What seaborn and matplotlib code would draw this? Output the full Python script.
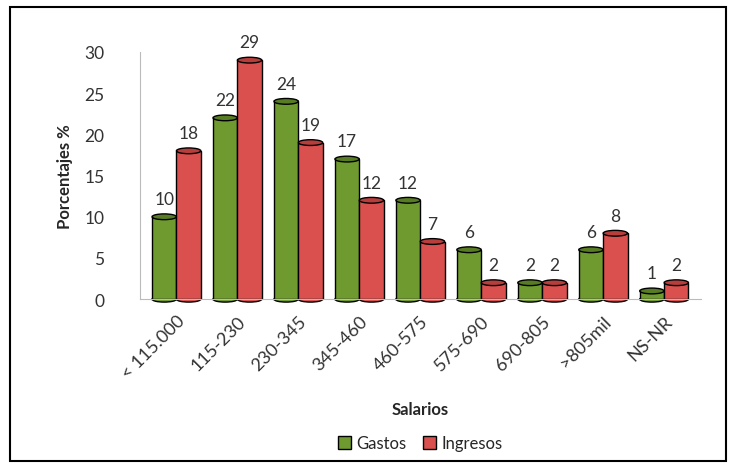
import pandas as pd
import matplotlib
matplotlib.use('Agg')
import matplotlib.pyplot as plt
from matplotlib.patches import Ellipse, Rectangle
import seaborn as sns

categorias = ['< 115.000', '115-230', '230-345', '345-460', '460-575',
              '575-690', '690-805', '>805mil', 'NS-NR']
gastos   = [10, 22, 24, 17, 12, 6, 2, 6, 1]
ingresos = [18, 29, 19, 12, 7, 2, 2, 8, 2]

df = pd.DataFrame({
    'Salarios': categorias * 2,
    'Valor': gastos + ingresos,
    'Serie': ['Gastos'] * len(categorias) + ['Ingresos'] * len(categorias),
})

sns.set_style('white')
plt.rcParams['font.family'] = ['Lato', 'DejaVu Sans']

colores = {'Gastos': '#6F9A30', 'Ingresos': '#D9504E'}
tapas = {'Gastos': '#587C24', 'Ingresos': '#B83E3C'}

fig = plt.figure(figsize=(7.36, 4.64), dpi=100)
ax = fig.add_axes([0.19, 0.353, 0.762, 0.533])

sns.barplot(data=df, x='Salarios', y='Valor', hue='Serie', palette=colores,
            saturation=1, edgecolor='black', linewidth=1, ax=ax, legend=True)

# tapas elipticas para dar efecto de cilindro
for cont, serie in zip(ax.containers, ['Gastos', 'Ingresos']):
    for p in cont:
        cx = p.get_x() + p.get_width() / 2
        ax.add_patch(Ellipse((cx, 0), p.get_width(), 0.7, facecolor=colores[serie],
                             edgecolor='black', lw=1, zorder=0.5, clip_on=False))
        ax.add_patch(Ellipse((cx, p.get_height()), p.get_width(), 0.7,
                             facecolor=tapas[serie], edgecolor='black', lw=1, zorder=3))
    ax.bar_label(cont, labels=[str(int(v)) for v in cont.datavalues],
                 padding=7, fontsize=12.5, color='#333333')

ax.set_ylim(0, 30)
ax.set_xlim(-0.6, 8.6)
ax.set_yticks(range(0, 31, 5))
ax.tick_params(axis='y', labelsize=12.5, pad=22, colors='#333333')
ax.tick_params(axis='x', labelsize=13, pad=6, colors='#333333')
plt.setp(ax.get_xticklabels(), rotation=45, ha='right', rotation_mode='anchor')
ax.set_ylabel('Porcentajes %', fontsize=12, fontweight='bold', labelpad=8)
ax.set_xlabel('Salarios', fontsize=12, fontweight='bold', labelpad=14)

for s in ['top', 'right']:
    ax.spines[s].set_visible(False)
ax.spines['left'].set_color('#BBBBBB')
ax.spines['bottom'].set_color('#BBBBBB')

leg = ax.legend(loc='upper center', bbox_to_anchor=(0.5, -0.49), ncol=2,
                frameon=False, fontsize=12, handlelength=0.8, handleheight=0.8,
                handletextpad=0.3, columnspacing=1.0)
for h in leg.legend_handles:
    h.set_edgecolor('black')

fig.patches.append(Rectangle((0.014, 0.005), 0.972, 0.978, transform=fig.transFigure,
                             fill=False, edgecolor='black', linewidth=1.5))

fig.savefig('out.png', dpi=100)
